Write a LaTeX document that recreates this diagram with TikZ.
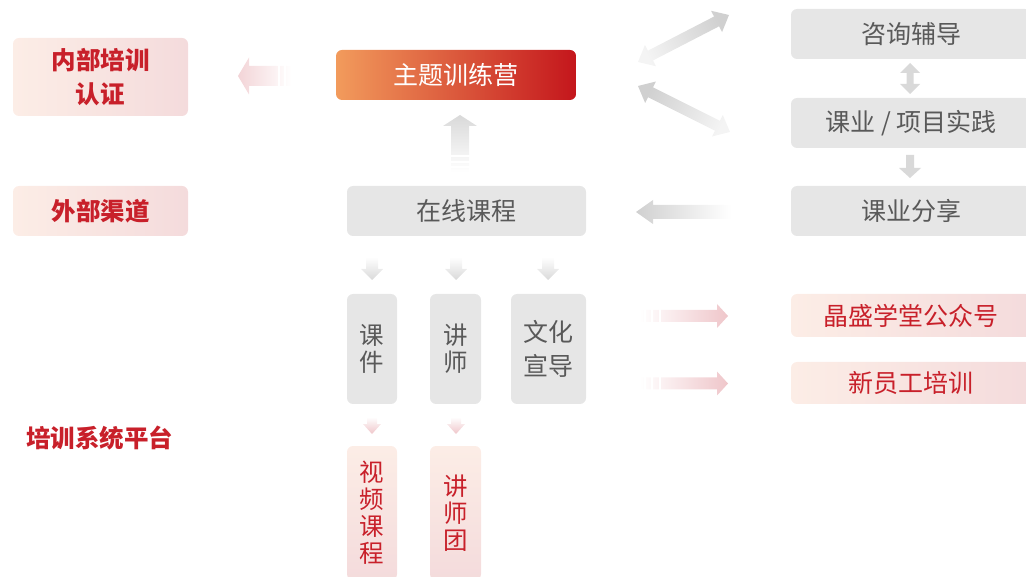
\documentclass[tikz,border=0pt]{standalone}
\usepackage{fontspec}
\setmainfont{Noto Sans CJK SC}
\usetikzlibrary{calc}
\definecolor{redtxt}{HTML}{C8202A}
\definecolor{graybox}{HTML}{E6E6E6}
\definecolor{graytxt}{HTML}{595959}
\definecolor{peach}{HTML}{FCEDE6}
\definecolor{pinkb}{HTML}{F4DBDC}
\definecolor{orangeA}{HTML}{F29B5C}
\definecolor{redB}{HTML}{C4161C}
\definecolor{arrgray}{HTML}{D9D9D9}
\definecolor{arrdark}{HTML}{D0D0D0}
\definecolor{arrpink}{HTML}{EFC6CA}
\newcommand\myfatarrow[6]{%
  \coordinate (fa-n) at ($(#3)!#6!(#2)$);
  \path[#1] ($(#2)!#4!90:(#3)$) -- ($(fa-n)!#4!90:(#3)$) -- ($(fa-n)!#5!90:(#3)$) -- (#3)
    -- ($(fa-n)!#5!-90:(#3)$) -- ($(fa-n)!#4!-90:(#3)$) -- ($(#2)!#4!-90:(#3)$) -- cycle;}
\newcommand\mydblarrow[6]{%
  \coordinate (da-a) at ($(#2)!#6!(#3)$);
  \coordinate (da-b) at ($(#3)!#6!(#2)$);
  \path[#1] (#2) -- ($(da-a)!#5!90:(#3)$) -- ($(da-a)!#4!90:(#3)$) -- ($(da-b)!#4!-90:(#2)$)
    -- ($(da-b)!#5!-90:(#2)$) -- (#3) -- ($(da-b)!#5!90:(#2)$) -- ($(da-b)!#4!90:(#2)$)
    -- ($(da-a)!#4!-90:(#3)$) -- ($(da-a)!#5!-90:(#3)$) -- cycle;}
\begin{document}
\begin{tikzpicture}[x=1pt,y=-1pt,
  bx/.style={rounded corners=6pt, inner sep=0pt, align=center, font=\fontsize{25}{34}\selectfont},
  gbox/.style={bx, fill=graybox, text=graytxt},
  rbox/.style={bx, left color=peach, right color=pinkb, text=redtxt},
  vrbox/.style={bx, top color=peach, bottom color=pinkb, text=redtxt},
  obox/.style={bx, left color=orangeA, right color=redB, text=white},
  vtext/.style={font=\fontsize{24.5}{27}\selectfont},
  boldlbl/.style={font=\bfseries\fontsize{24.5}{34}\selectfont},
  stripe/.style={white, line width=1.6pt}]
\useasboundingbox (0,0) rectangle (1026,577);

% left labels
\node[rbox, minimum width=175pt, minimum height=78pt, boldlbl] (intern) at (100.5,77) {内部培训\\认证};
\node[rbox, minimum width=175pt, minimum height=50pt, boldlbl] (extern) at (100.5,211) {外部渠道};
\node[text=redtxt, boldlbl, inner sep=0pt] (platform) at (100,438) {培训系统平台};

% centre
\node[obox, minimum width=240pt, minimum height=50pt] (camp) at (456,75) {主题训练营};
\node[gbox, minimum width=239pt, minimum height=50pt] (online) at (466.5,211) {在线课程};
\node[gbox, minimum width=50pt, minimum height=110pt, vtext] (kj) at (372,349) {课\\件};
\node[gbox, minimum width=51pt, minimum height=110pt, vtext] (js) at (455.5,349) {讲\\师};
\node[gbox, minimum width=75pt, minimum height=110pt, font=\fontsize{25}{34}\selectfont] (wh) at (548.5,349) {文化\\宣导};
\node[vrbox, minimum width=50pt, minimum height=134pt, vtext] (sp) at (372,513) {视\\频\\课\\程};
\node[vrbox, minimum width=51pt, minimum height=134pt, vtext] (jst) at (455.5,513) {讲\\师\\团};

% right
\node[gbox, minimum width=240pt, minimum height=50pt] (consult) at (911,34) {咨询辅导};
\node[gbox, minimum width=240pt, minimum height=50pt] (practice) at (911,123) {课业 / 项目实践};
\node[gbox, minimum width=240pt, minimum height=50pt] (share) at (911,211) {课业分享};
\node[rbox, minimum width=240pt, minimum height=43pt] (wechat) at (911,315.5) {晶盛学堂公众号};
\node[rbox, minimum width=240pt, minimum height=42pt] (newstaff) at (911,383) {新员工培训};

% arrow end points
\coordinate (a1s) at (291,76);   \coordinate (a1e) at (238,76);
\coordinate (a2s) at (460,172);  \coordinate (a2e) at (460,115);
\coordinate (d1s) at (638,62);   \coordinate (d1e) at (729,15);
\coordinate (d2s) at (638,86);   \coordinate (d2e) at (730,132);
\coordinate (v1s) at (910,63);   \coordinate (v1e) at (910,94);
\coordinate (v2s) at (910,155);  \coordinate (v2e) at (910,178);
\coordinate (lgs) at (731,212);  \coordinate (lge) at (636,212);
\coordinate (k1s) at (372,257);  \coordinate (k1e) at (372,280);
\coordinate (k2s) at (456,257);  \coordinate (k2e) at (456,280);
\coordinate (k3s) at (548,257);  \coordinate (k3e) at (548,280);
\coordinate (p1s) at (372,417);  \coordinate (p1e) at (372,434);
\coordinate (p2s) at (456,417);  \coordinate (p2e) at (456,434);
\coordinate (r1s) at (640,316);  \coordinate (r1e) at (728,316);
\coordinate (r2s) at (640,383.5);\coordinate (r2e) at (728,383.5);

% pink left arrow camp -> intern
\myfatarrow{left color=arrpink!75, right color=white}{a1s}{a1e}{10pt}{18.5pt}{11pt}
\draw[stripe] (279,64) -- (279,88); \draw[stripe] (285,64) -- (285,88);
% up arrow online -> camp
\myfatarrow{top color=arrgray, bottom color=white}{a2s}{a2e}{9pt}{17pt}{11pt}
\draw[stripe] (448,156) -- (472,156); \draw[stripe] (448,162) -- (472,162); \draw[stripe] (448,167) -- (472,167);
% diagonal double arrows
\mydblarrow{top color=arrdark, bottom color=arrgray!30, shading angle=-63}{d1s}{d1e}{5.5pt}{12pt}{14pt}
\mydblarrow{top color=arrdark, bottom color=arrgray!30, shading angle=63}{d2s}{d2e}{5.5pt}{12pt}{14pt}
% right column small arrows
\mydblarrow{fill=arrgray}{v1s}{v1e}{3.5pt}{10pt}{10pt}
\myfatarrow{fill=arrgray}{v2s}{v2e}{4pt}{11pt}{10pt}
% share -> online
\myfatarrow{left color=arrdark, right color=white}{lgs}{lge}{7pt}{12pt}{17pt}
% small down arrows
\myfatarrow{top color=white, bottom color=arrgray}{k1s}{k1e}{6pt}{11pt}{11pt}
\myfatarrow{top color=white, bottom color=arrgray}{k2s}{k2e}{6pt}{11pt}{11pt}
\myfatarrow{top color=white, bottom color=arrgray}{k3s}{k3e}{6pt}{11pt}{11pt}
\myfatarrow{top color=white, bottom color=arrpink}{p1s}{p1e}{5pt}{9pt}{10pt}
\myfatarrow{top color=white, bottom color=arrpink}{p2s}{p2e}{5pt}{9pt}{10pt}
% right pink arrows
\myfatarrow{left color=white, right color=arrpink}{r1s}{r1e}{6pt}{12pt}{11pt}
\myfatarrow{left color=white, right color=arrpink}{r2s}{r2e}{6pt}{12pt}{11pt}
\foreach \y in {316,383.5}{
  \draw[stripe] (645,\y-7) -- (645,\y+7);
  \draw[stripe] (652,\y-7) -- (652,\y+7);
  \draw[stripe] (660,\y-7) -- (660,\y+7);}
\end{tikzpicture}
\end{document}
